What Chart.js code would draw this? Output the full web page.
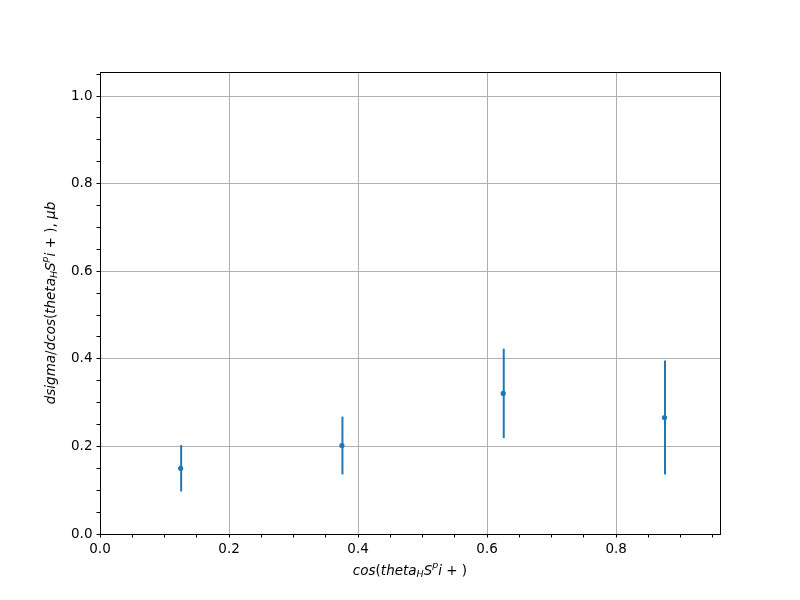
<!DOCTYPE html>
<html>
<head>
<meta charset="utf-8">
<script src="https://cdn.jsdelivr.net/npm/chart.js@4"></script>
<style>
  html, body { margin: 0; padding: 0; background: #fff; }
  #wrap { width: 800px; height: 600px; }
</style>
</head>
<body>
<div id="wrap"><canvas id="chart" width="800" height="600"></canvas></div>
<script>
// datos
const cosTheta = [0.125, 0.375, 0.625, 0.875];
const dsigma = [0.150, 0.202, 0.321, 0.266];
const dsigmaErr = [0.053, 0.066, 0.102, 0.130];
const xTickLabels = ['0.0', '0.2', '0.4', '0.6', '0.8'];
const yTickLabels = ['0.0', '0.2', '0.4', '0.6', '0.8', '1.0'];

const blue = '#1f77b4';
const fontFam = 'DejaVu Sans';

function isMajor(v) {
  const k = Math.round(v / 0.05);
  return k % 4 === 0;
}

// barras de error con las escalas del gráfico
const errorBars = {
  id: 'errorBars',
  beforeDatasetsDraw(chart) {
    const ctx = chart.ctx;
    const xs = chart.scales.x, ys = chart.scales.y;
    ctx.save();
    ctx.strokeStyle = blue;
    ctx.lineWidth = 2;
    for (let i = 0; i < cosTheta.length; i++) {
      const px = xs.getPixelForValue(cosTheta[i]) + 0.5;
      ctx.beginPath();
      ctx.moveTo(px, ys.getPixelForValue(dsigma[i] - dsigmaErr[i]));
      ctx.lineTo(px, ys.getPixelForValue(dsigma[i] + dsigmaErr[i]));
      ctx.stroke();
    }
    ctx.restore();
  }
};

// marco completo y títulos con sub/superíndices
function drawRich(ctx, parts, size) {
  let w = 0;
  parts.forEach(p => {
    const s = p.sub || p.sup ? size * 0.7 : size;
    ctx.font = (p.up ? '' : 'italic ') + s + 'px "' + fontFam + '"';
    p.w = ctx.measureText(p.t).width;
    p.s = s;
    w += p.w;
  });
  let x = -w / 2;
  parts.forEach(p => {
    ctx.font = (p.up ? '' : 'italic ') + p.s + 'px "' + fontFam + '"';
    let dy = 0;
    if (p.sub) dy = size * 0.25;
    if (p.sup) dy = -size * 0.4;
    ctx.fillText(p.t, x, dy);
    x += p.w;
  });
}

const frameAndTitles = {
  id: 'frameAndTitles',
  afterDraw(chart) {
    const ctx = chart.ctx;
    const a = chart.chartArea;
    ctx.save();
    ctx.strokeStyle = '#000';
    ctx.lineWidth = 1;
    ctx.strokeRect(Math.round(a.left) + 0.5, Math.round(a.top) + 0.5,
      Math.round(a.right - a.left), Math.round(a.bottom - a.top));

    ctx.fillStyle = '#000';
    ctx.textBaseline = 'middle';
    ctx.textAlign = 'left';

    const xParts = [
      {t: 'cos'}, {t: '(', up: true}, {t: 'theta'}, {t: 'H', sub: true},
      {t: 'S'}, {t: 'p', sup: true}, {t: 'i'}, {t: ' + ', up: true}, {t: ')', up: true}
    ];
    ctx.save();
    ctx.translate((a.left + a.right) / 2, 571);
    drawRich(ctx, xParts, 13.5);
    ctx.restore();

    const yParts = [
      {t: 'dsigma'}, {t: '/', up: true}, {t: 'dcos'}, {t: '(', up: true}, {t: 'theta'},
      {t: 'H', sub: true}, {t: 'S'}, {t: 'p', sup: true}, {t: 'i'}, {t: ' + ', up: true},
      {t: '), ', up: true}, {t: 'μb'}
    ];
    ctx.save();
    ctx.translate(51, (a.top + a.bottom) / 2);
    ctx.rotate(-Math.PI / 2);
    drawRich(ctx, yParts, 13.5);
    ctx.restore();
    ctx.restore();
  }
};

new Chart(document.getElementById('chart').getContext('2d'), {
  type: 'scatter',
  data: {
    datasets: [{
      data: cosTheta.map((x, i) => ({x: x, y: dsigma[i]})),
      backgroundColor: blue,
      borderColor: blue,
      borderWidth: 0,
      pointRadius: 2.6,
      pointHoverRadius: 2.6,
      showLine: false
    }]
  },
  options: {
    responsive: false,
    animation: false,
    events: [],
    layout: { padding: { top: 72, right: 80, left: 0, bottom: 0 } },
    plugins: { legend: { display: false }, tooltip: { enabled: false } },
    scales: {
      x: {
        type: 'linear',
        min: 0,
        max: 0.961,
        afterFit(scale) { scale.height = 66; },
        border: { display: false },
        grid: {
          color: c => isMajor(c.tick.value) ? '#b0b0b0' : 'rgba(0,0,0,0)',
          lineWidth: 1,
          tickColor: '#000',
          tickLength: 3.5
        },
        ticks: {
          stepSize: 0.05,
          includeBounds: false,
          autoSkip: false,
          maxRotation: 0,
          padding: 4,
          color: '#000',
          font: { family: fontFam, size: 13.5 },
          callback: v => isMajor(v) ? xTickLabels[Math.round(v / 0.2)] : ''
        }
      },
      y: {
        type: 'linear',
        min: 0,
        max: 1.0548,
        afterFit(scale) { scale.width = 100; },
        border: { display: false },
        grid: {
          color: c => isMajor(c.tick.value) ? '#b0b0b0' : 'rgba(0,0,0,0)',
          lineWidth: 1,
          tickColor: '#000',
          tickLength: 3.5
        },
        ticks: {
          stepSize: 0.05,
          includeBounds: false,
          autoSkip: false,
          padding: 4,
          color: '#000',
          font: { family: fontFam, size: 13.5 },
          callback: v => isMajor(v) ? yTickLabels[Math.round(v / 0.2)] : ''
        }
      }
    }
  },
  plugins: [errorBars, frameAndTitles]
});
</script>
</body>
</html>
